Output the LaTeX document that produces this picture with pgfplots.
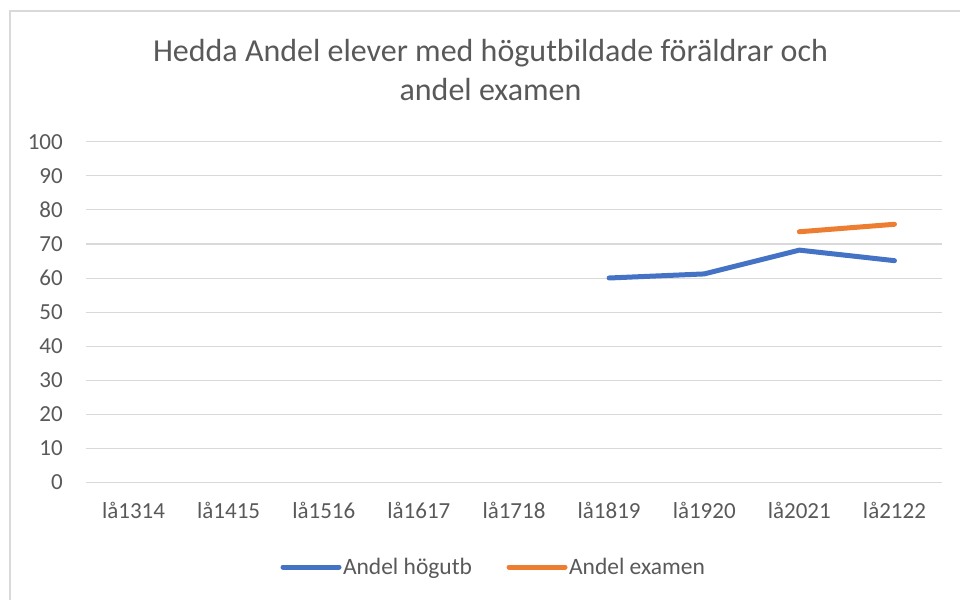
\documentclass[border=0pt]{standalone}
\usepackage{pgfplots}
\pgfplotsset{compat=1.18}
\usepackage{fontspec}
\setmainfont{Carlito}
\definecolor{txt}{HTML}{595959}
\definecolor{gridc}{HTML}{D9D9D9}
\definecolor{blue1}{HTML}{4472C4}
\definecolor{orange1}{HTML}{ED7D31}
\begin{document}
\begin{tikzpicture}
\path[use as bounding box] (0pt,0pt) rectangle (960pt,600pt);
\draw[gridc, line width=1.3pt] (10pt,0pt) -- (10pt,589pt) -- (960pt,589pt);
\node[txt, font=\fontsize{32}{35}\selectfont, anchor=base, inner sep=0pt] at (490.5pt,538pt) {Hedda Andel elever med högutbildade föräldrar och};
\node[txt, font=\fontsize{32}{35}\selectfont, anchor=base, inner sep=0pt] at (490.5pt,499pt) {andel examen};
\begin{axis}[
  at={(86pt,118pt)}, anchor=south west,
  scale only axis, width=856pt, height=340pt,
  xmin=-0.5, xmax=8.5, ymin=0, ymax=100,
  xtick={0,...,8},
  xticklabels={lå1314,lå1415,lå1516,lå1617,lå1718,lå1819,lå1920,lå2021,lå2122},
  ytick={0,10,...,100},
  axis line style={draw=none},
  major tick length=0pt,
  ymajorgrids,
  grid style={gridc, line width=1pt},
  /pgf/number format/assume math mode=true,
  tick label style={txt, font=\fontsize{23}{26}\selectfont},
  yticklabel style={anchor=east, inner sep=0pt, xshift=-23pt},
  xticklabel style={anchor=base, inner sep=0pt, yshift=-36pt},
  legend columns=2,
  legend style={draw=none, fill=none, at={(0.476,-0.25)}, anchor=center,
    font=\fontsize{23.5}{26}\selectfont, text=txt,
    /tikz/every even column/.append style={column sep=33pt},
    nodes={inner sep=1.5pt}},
  legend image code/.code={\draw[#1] (0pt,0pt) -- (56pt,0pt);},
  every axis plot/.append style={line width=5pt, line cap=round, line join=round},
]
\addplot[blue1] coordinates {(5,60) (6,61.2) (7,68.2) (8,65.1)};
\addlegendentry{Andel högutb}
\addplot[orange1] coordinates {(7,73.6) (8,75.8)};
\addlegendentry{Andel examen}
\end{axis}
\end{tikzpicture}
\end{document}
